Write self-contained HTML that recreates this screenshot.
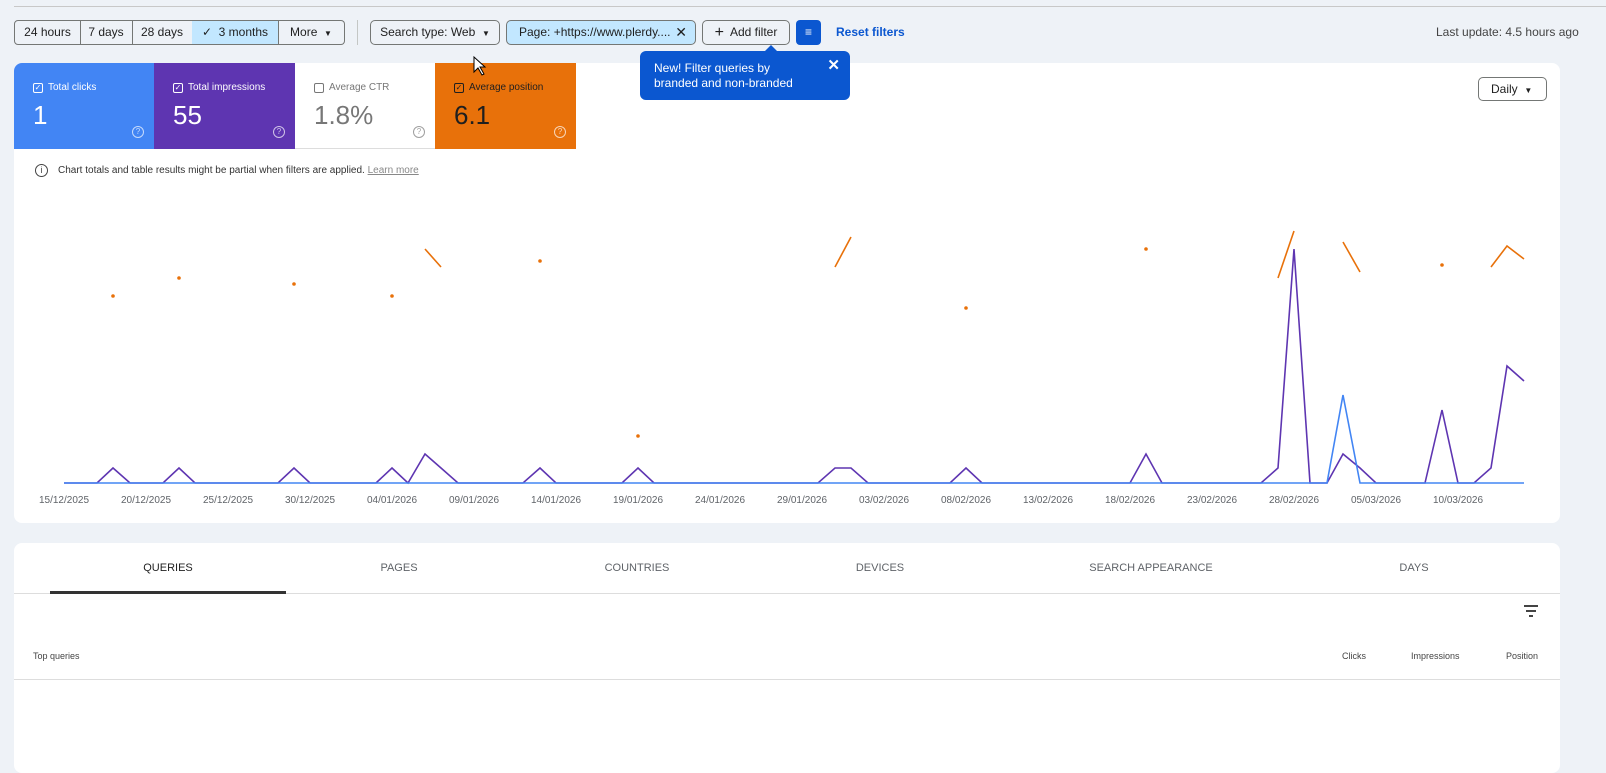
<!DOCTYPE html>
<html><head><meta charset="utf-8"><style>
*{box-sizing:border-box;margin:0;padding:0}
body{width:1606px;height:754px;background:#eef2f7;font-family:"Liberation Sans",sans-serif;position:relative;overflow:hidden;color:#1f1f1f}
.a{position:absolute}
.seg{position:absolute;top:20px;height:25px;border:1px solid #747775;font-size:12px;line-height:23px;text-align:center;color:#1f1f1f}
.card{position:absolute;background:#fff;border-radius:8px}
.m{position:absolute;top:63px;height:86px;color:#fff}
.m .l{position:absolute;left:19px;top:19px;font-size:10px;display:flex;align-items:center}
.m .l i{display:inline-block;width:10px;height:10px;border:1.5px solid currentColor;border-radius:2px;margin-right:5px;font-style:normal;font-size:8px;line-height:7px;text-align:center}
.m .v{position:absolute;left:19px;top:37px;font-size:26px}
.m .q{position:absolute;right:10px;top:63px;width:12px;height:12px;border:1.3px solid currentColor;border-radius:50%;font-size:8px;line-height:10px;text-align:center;opacity:.7}
.tab{position:absolute;top:562px;font-size:11px;color:#5f6368;transform:translateX(-50%)}
</style></head><body>
<div class="a" style="left:14px;right:0;top:6px;height:1px;background:#c8c8c8"></div>
<div class="seg" style="left:14px;width:67px;border-radius:4px 0 0 4px">24 hours</div>
<div class="seg" style="left:80px;width:53px;border-left:none">7 days</div>
<div class="seg" style="left:132px;width:61px;border-left:none">28 days</div>
<div class="seg" style="left:192px;width:87px;border-left:none;background:#c2e7ff">✓&nbsp; 3 months</div>
<div class="seg" style="left:278px;width:67px;border-left:none;border-radius:0 4px 4px 0">More &nbsp;<span style="font-size:8px">▼</span></div>
<div class="a" style="left:357px;top:20px;width:1px;height:25px;background:#c4c7c5"></div>
<div class="seg" style="left:370px;width:130px;border-radius:5px">Search type: Web &nbsp;<span style="font-size:8px">▼</span></div>
<div class="seg" style="left:506px;width:190px;border-radius:5px;background:#c2e7ff;text-align:left;padding-left:12px">Page: +https://www.plerdy.... <span style="position:absolute;right:8px;font-size:14px">✕</span></div>
<div class="seg" style="left:702px;width:88px;border-radius:5px"><span style="font-size:16px;vertical-align:-1px">+</span>&nbsp; Add filter</div>
<div class="a" style="left:796px;top:20px;width:25px;height:25px;background:#0b57d0;border-radius:4px;color:#fff;font-size:12px;text-align:center;line-height:25px">≡</div>
<div class="a" style="left:836px;top:25px;font-size:12px;color:#0b57d0;font-weight:bold">Reset filters</div>
<div class="a" style="left:1436px;top:25px;font-size:12px;color:#444;white-space:nowrap">Last update: 4.5 hours ago</div>

<div class="card" style="left:14px;top:63px;width:1546px;height:460px"></div>
<div class="m" style="left:14px;width:140px;background:#4285f4;border-radius:8px 0 0 0"><div class="l"><i>✓</i>Total clicks</div><div class="v">1</div><div class="q">?</div></div>
<div class="m" style="left:154px;width:141px;background:#5e35b1"><div class="l"><i>✓</i>Total impressions</div><div class="v">55</div><div class="q">?</div></div>
<div class="m" style="left:295px;width:140px;background:#fff;color:#777;border-bottom:1px solid #ddd"><div class="l"><i></i>Average CTR</div><div class="v">1.8%</div><div class="q">?</div></div>
<div class="m" style="left:435px;width:141px;background:#e8710a;color:#1f1f1f"><div class="l"><i>✓</i>Average position</div><div class="v">6.1</div><div class="q" style="color:#fff">?</div></div>

<div class="a" style="left:764px;top:45px;width:0;height:0;border-left:7px solid transparent;border-right:7px solid transparent;border-bottom:7px solid #0b57d0"></div>
<div class="a" style="left:640px;top:51px;width:210px;height:49px;background:#0b57d0;border-radius:6px;color:#fff;font-size:12px;line-height:15px;padding:10px 0 0 14px">New! Filter queries by<br>branded and non-branded<span style="position:absolute;right:10px;top:7px;font-size:15px;font-weight:bold">✕</span></div>
<div class="a" style="left:1478px;top:77px;width:69px;height:24px;border:1px solid #747775;border-radius:5px;font-size:12px;line-height:22px;padding-left:12px">Daily &nbsp;<span style="font-size:8px">▼</span></div>

<div class="a" style="left:35px;top:164px;width:13px;height:13px;border:1.3px solid #444;border-radius:50%;font-size:9px;line-height:11px;text-align:center;color:#444">i</div>
<div class="a" style="left:58px;top:165px;font-size:10px;color:#333">Chart totals and table results might be partial when filters are applied. <span style="color:#888;text-decoration:underline">Learn more</span></div>

<svg class="a" style="left:0;top:0" width="1606" height="754">
<g fill="none" stroke-width="1.6" stroke-linejoin="miter">
<polyline stroke="#5e35b1" points="64,483 97,483 113,468 130,483 163,483 179,468 195,483 278,483 294,468 310,483 376,483 392,468 408,483 425,454 441,468 458,483 523,483 540,468 556,483 622,483 638,468 654,483 818,483 835,468 851,468 868,483 950,483 966,468 982,483 1130,483 1146,454 1162,483 1261,483 1278,468 1294,249 1310,483 1327,483 1343,454 1360,468 1376,483 1425,483 1442,410 1458,483 1474,483 1491,468 1507,366 1524,381"/>
<polyline stroke="#4285f4" points="64,483 1327,483 1343,395 1360,483 1524,483"/>
<g stroke="#e8710a">
<polyline points="425,249 441,267"/><polyline points="835,267 851,237"/><polyline points="1278,278 1294,231"/><polyline points="1343,242 1360,272"/><polyline points="1491,267 1507,246 1524,259"/>
</g></g>
<g fill="#e8710a"><circle cx="113" cy="296" r="1.8"/><circle cx="179" cy="278" r="1.8"/><circle cx="294" cy="284" r="1.8"/><circle cx="392" cy="296" r="1.8"/><circle cx="540" cy="261" r="1.8"/><circle cx="638" cy="436" r="1.8"/><circle cx="966" cy="308" r="1.8"/><circle cx="1146" cy="249" r="1.8"/><circle cx="1442" cy="265" r="1.8"/></g>
<g font-family="Liberation Sans,sans-serif" font-size="10" fill="#5f6368" text-anchor="middle">
<text x="64" y="503">15/12/2025</text><text x="146" y="503">20/12/2025</text><text x="228" y="503">25/12/2025</text><text x="310" y="503">30/12/2025</text><text x="392" y="503">04/01/2026</text><text x="474" y="503">09/01/2026</text><text x="556" y="503">14/01/2026</text><text x="638" y="503">19/01/2026</text><text x="720" y="503">24/01/2026</text><text x="802" y="503">29/01/2026</text><text x="884" y="503">03/02/2026</text><text x="966" y="503">08/02/2026</text><text x="1048" y="503">13/02/2026</text><text x="1130" y="503">18/02/2026</text><text x="1212" y="503">23/02/2026</text><text x="1294" y="503">28/02/2026</text><text x="1376" y="503">05/03/2026</text><text x="1458" y="503">10/03/2026</text>
</g>
<path d="M474 57 L474 72 L478 68 L482 75 L484 74 L480 67 L485 67 Z" fill="#fff" stroke="#000" stroke-width="1"/>
</svg>

<div class="card" style="left:14px;top:543px;width:1546px;height:230px"></div>
<div class="tab" style="left:168px;color:#1f1f1f">QUERIES</div>
<div class="tab" style="left:399px">PAGES</div>
<div class="tab" style="left:637px">COUNTRIES</div>
<div class="tab" style="left:880px">DEVICES</div>
<div class="tab" style="left:1151px">SEARCH APPEARANCE</div>
<div class="tab" style="left:1414px">DAYS</div>
<div class="a" style="left:14px;top:593px;width:1546px;height:1px;background:#ddd"></div>
<div class="a" style="left:50px;top:591px;width:236px;height:3px;background:#333"></div>
<div class="a" style="left:1524px;top:605px;width:14px;height:1.5px;background:#444"></div>
<div class="a" style="left:1526px;top:610px;width:10px;height:1.5px;background:#444"></div>
<div class="a" style="left:1529px;top:615px;width:4px;height:1.5px;background:#444"></div>
<div class="a" style="left:33px;top:651px;font-size:9px;color:#444">Top queries</div>
<div class="a" style="left:1342px;top:651px;font-size:9px;color:#444">Clicks</div>
<div class="a" style="left:1411px;top:651px;font-size:9px;color:#444">Impressions</div>
<div class="a" style="left:1506px;top:651px;font-size:9px;color:#444">Position</div>
<div class="a" style="left:14px;top:679px;width:1546px;height:1px;background:#ddd"></div>
</body></html>
